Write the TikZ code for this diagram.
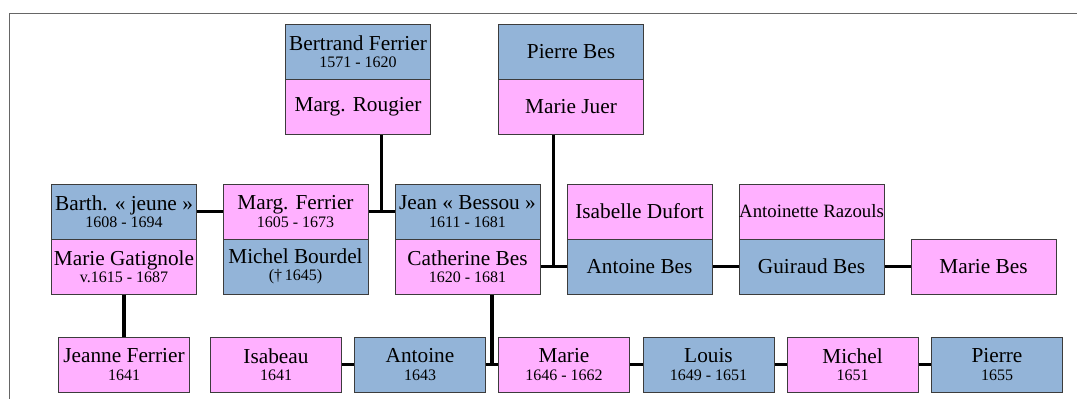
\documentclass[tikz,border=0pt]{standalone}
\usepackage{fontspec}
\setmainfont{Liberation Serif}
\usepackage{xcolor}
\usetikzlibrary{calc}

\definecolor{manblue}{RGB}{147,180,216}
\definecolor{womanpink}{RGB}{255,176,255}
\definecolor{boxline}{RGB}{60,60,60}

% second line of a box: the years
\newcommand{\yrs}[1]{\\[-4.5pt]{\fontsize{16}{17}\selectfont #1}}

\tikzset{
    person/.style = {draw = boxline, line width = 1pt, minimum width = 145pt, minimum height = 55pt, inner sep = 0pt, align = center, font = \fontsize{21.3}{22}\selectfont},
    man/.style = {person, fill = manblue},
    woman/.style = {person, fill = womanpink},
    kid/.style = {minimum width = 131pt},
    tie/.style = {line width = 3.7pt}
}

\begin{document}
\begin{tikzpicture}[x = 1pt, y = -1pt]
    \useasboundingbox (0, 0) rectangle (1077, 399);
    \draw[gray!80!black, line width = 1pt] (9, 399) -- (9, 13) -- (1077, 13);

    % Grandparents
    \node[man] (bertrand) at (358, 51.5) {Bertrand Ferrier\yrs{1571 - 1620}};
    \node[woman] (rougier) at (358, 106.5) {Marg. Rougier};
    %
    \node[man] (pbes) at (571, 51.5) {Pierre Bes};
    \node[woman] (juer) at (571, 106.5) {Marie Juer};

    % Couples
    \node[man] (barth) at (124, 211.5) {Barth. « jeune »\yrs{1608 - 1694}};
    \node[woman] (gatignole) at (124, 266.5) {Marie Gatignole\yrs{v.1615 - 1687}};
    %
    \node[woman] (mferrier) at (295.5, 211.5) {Marg. Ferrier\yrs{1605 - 1673}};
    \node[man] (bourdel) at (295.5, 266.5) {Michel Bourdel\yrs{(†\,1645)}};
    %
    \node[man] (jean) at (467.5, 211.5) {Jean « Bessou »\yrs{1611 - 1681}};
    \node[woman] (catherine) at (467.5, 266.5) {Catherine Bes\yrs{1620 - 1681}};
    %
    \node[woman] (dufort) at (639.5, 211.5) {Isabelle Dufort};
    \node[man] (abes) at (639.5, 266.5) {Antoine Bes};
    %
    \node[woman, font = \fontsize{18.8}{20}\selectfont] (razouls) at (811.5, 211.5) {Antoinette Razouls};
    \node[man] (guiraud) at (811.5, 266.5) {Guiraud Bes};
    %
    \node[woman] (mbes) at (983.5, 266.5) {Marie Bes};

    % Children
    \node[woman, kid] (jeanne) at (124, 364.5) {Jeanne Ferrier\yrs{1641}};
    %
    \node[woman, kid] (isabeau) at (276, 364.5) {Isabeau\yrs{1641}};
    \node[man, kid] (antoine) at (420, 364.5) {Antoine\yrs{1643}};
    \node[woman, kid] (marie) at (564, 364.5) {Marie\yrs{1646 - 1662}};
    \node[man, kid] (louis) at (708.5, 364.5) {Louis\yrs{1649 - 1651}};
    \node[woman, kid] (michel) at (852.5, 364.5) {Michel\yrs{1651}};
    \node[man, kid] (pierre) at (997, 364.5) {Pierre\yrs{1655}};

    % Lines
    \draw[tie] (barth) -- (mferrier);
    \draw[tie] (mferrier) -- (jean);
    \coordinate (fj) at ($(mferrier.east)!0.5!(jean.west)$);
    \draw[tie] (rougier.south -| fj) -- (fj);
    %
    \draw[tie] (catherine) -- (abes);
    \coordinate (cb) at ($(catherine.east)!0.5!(abes.west)$);
    \draw[tie] (juer.south -| cb) -- (cb);
    %
    \draw[tie] (abes) -- (guiraud);
    \draw[tie] (guiraud) -- (mbes);
    %
    \draw[tie] (gatignole) -- (jeanne);
    %
    \draw[tie] (isabeau) -- (antoine);
    \draw[tie] (antoine) -- (marie);
    \coordinate (am) at ($(antoine.east)!0.5!(marie.west)$);
    \draw[tie] (catherine.south -| am) -- (am);
    \draw[tie] (marie) -- (louis);
    \draw[tie] (louis) -- (michel);
    \draw[tie] (michel) -- (pierre);
\end{tikzpicture}
\end{document}
